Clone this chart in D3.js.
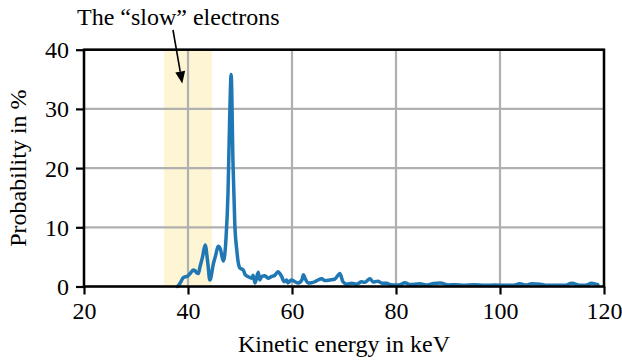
<!DOCTYPE html>
<html>
<head>
<meta charset="utf-8">
<script src="https://cdn.jsdelivr.net/npm/d3@7"></script>
<style>
  html, body { margin: 0; padding: 0; background: #fff; }
  svg text { font-family: "Times New Roman", Times, serif !important; fill: #000; }
</style>
</head>
<body>
<svg id="chart" width="622" height="362"></svg>
<script>
// ---- data ----
const energy = [38.0, 38.5, 39.1, 40.0, 40.7, 41.0, 41.3, 41.7, 42.0, 42.3, 42.8, 43.3, 43.8, 44.2, 44.9, 45.3, 45.8, 46.2, 46.8, 47.3, 47.7, 48.0, 48.3, 48.65, 49.0, 49.4, 49.6, 50.0, 50.6, 51.0, 51.5, 52.3, 52.5, 52.9, 53.5, 53.8, 54.2, 54.8, 55.4, 56.1, 56.7, 57.3, 58.0, 58.5, 59.0, 59.2, 59.9, 60.6, 61.2, 61.9, 62.2, 62.5, 63.1, 63.8, 64.4, 65.0, 65.7, 66.3, 67.3, 68.3, 69.2, 69.8, 70.5, 71.5, 72.4, 73.4, 74.0, 75.0, 75.6, 76.5, 77.3, 78.2, 79.0, 80.0, 80.8, 81.7, 82.6, 84.6, 86.0, 87.2, 88.5, 90.0, 91.5, 93.0, 95.0, 97.0, 99.0, 101.0, 102.5, 103.8, 105.0, 106.1, 107.7, 109.0, 111.0, 112.5, 113.8, 115.5, 116.5, 117.6, 118.8];
const probability = [0.0, 0.6, 1.5, 1.8, 2.5, 2.8, 2.7, 2.3, 2.2, 3.3, 5.0, 7.0, 4.0, 1.1, 3.9, 5.2, 6.8, 6.4, 4.3, 8.0, 16.0, 28.0, 35.8, 21.0, 10.5, 6.0, 4.4, 3.1, 2.8, 2.0, 1.7, 1.4, 1.9, 0.6, 2.4, 1.1, 1.7, 1.8, 1.4, 1.7, 1.9, 2.5, 1.7, 0.8, 1.1, 0.6, 1.1, 0.8, 0.6, 1.1, 2.0, 1.4, 0.6, 0.65, 0.8, 1.1, 1.3, 1.0, 1.1, 1.3, 2.2, 0.8, 0.4, 0.55, 0.4, 0.8, 0.7, 1.3, 0.75, 0.9, 0.55, 0.55, 0.3, 0.25, 0.3, 0.65, 0.35, 0.45, 0.25, 0.5, 0.6, 0.25, 0.3, 0.2, 0.3, 0.2, 0.25, 0.2, 0.2, 0.45, 0.25, 0.45, 0.4, 0.2, 0.2, 0.2, 0.55, 0.2, 0.2, 0.55, 0.3];
const xTicks = [20, 40, 60, 80, 100, 120];
const yTicks = [0, 10, 20, 30, 40];
const xDomain = [20, 120];
const yDomain = [0, 40];
const spanRange = [35.4, 44.6];
const annotationText = "The \u201cslow\u201d electrons";
const annotationTarget = [38.9, 34.3];
const xLabel = "Kinetic energy in keV";
const yLabel = "Probability in %";

// ---- layout ----
const FONT = "'Times New Roman', Times, serif";
const svg = d3.select("#chart");
const pLeft = 84, pRight = 604, pTop = 49.7, pBottom = 286.5;
const x = d3.scaleLinear().domain(xDomain).range([pLeft, pRight]);
const y = d3.scaleLinear().domain(yDomain).range([pBottom, pTop]);
const fs = 24;

// highlighted span
svg.append("rect")
  .attr("x", x(spanRange[0])).attr("y", pTop)
  .attr("width", x(spanRange[1]) - x(spanRange[0]))
  .attr("height", pBottom - pTop)
  .attr("fill", "#fef5d4");

// grid
const grid = svg.append("g").attr("stroke", "#b0b0b0").attr("stroke-width", 2.2);
grid.selectAll("line.gx").data(xTicks).join("line").attr("class", "gx")
  .attr("x1", d => x(d)).attr("x2", d => x(d)).attr("y1", pTop).attr("y2", pBottom);
grid.selectAll("line.gy").data(yTicks).join("line").attr("class", "gy")
  .attr("x1", pLeft).attr("x2", pRight).attr("y1", d => y(d)).attr("y2", d => y(d));

// data line
const pts = energy.map((e, i) => [e, probability[i]]);
svg.append("path")
  .datum(pts)
  .attr("fill", "none")
  .attr("stroke", "#1f77b4")
  .attr("stroke-width", 3.5)
  .attr("stroke-linejoin", "round")
  .attr("stroke-linecap", "round")
  .attr("d", d3.line().curve(d3.curveMonotoneX).x(d => x(d[0])).y(d => y(d[1])));

// frame
svg.append("rect")
  .attr("x", pLeft).attr("y", pTop)
  .attr("width", pRight - pLeft).attr("height", pBottom - pTop)
  .attr("fill", "none").attr("stroke", "#000").attr("stroke-width", 2.5);

// axes
const xAxis = d3.axisBottom(x).tickValues(xTicks).tickSize(8).tickPadding(6).tickFormat(d3.format("d"));
const yAxis = d3.axisLeft(y).tickValues(yTicks).tickSize(8).tickPadding(7).tickFormat(d3.format("d"));
const gx = svg.append("g").attr("transform", `translate(0,${pBottom})`).call(xAxis);
const gy = svg.append("g").attr("transform", `translate(${pLeft},0)`).call(yAxis);
[gx, gy].forEach(g => {
  g.attr("font-family", FONT).attr("font-size", fs);
  g.select(".domain").remove();
  g.selectAll(".tick line").attr("stroke", "#000").attr("stroke-width", 2.2);
  g.selectAll(".tick text").attr("font-family", FONT).attr("font-size", fs).attr("fill", "#000");
});
gx.selectAll(".tick text").attr("dy", null).attr("y", 32.5);
gy.selectAll(".tick text").attr("dy", "0.33em");

// axis labels
svg.append("text")
  .attr("x", (pLeft + pRight) / 2).attr("y", 352)
  .attr("text-anchor", "middle").attr("font-family", FONT).attr("font-size", fs)
  .text(xLabel);
svg.append("text")
  .attr("transform", `translate(26,${(pTop + pBottom) / 2}) rotate(-90)`)
  .attr("text-anchor", "middle").attr("font-family", FONT).attr("font-size", fs)
  .text(yLabel);

// annotation
svg.append("text")
  .attr("x", 77).attr("y", 25)
  .attr("font-family", FONT).attr("font-size", fs)
  .text(annotationText);
const tx = 173, ty = 30;
const hx = x(annotationTarget[0]), hy = y(annotationTarget[1]);
const ang = Math.atan2(hy - ty, hx - tx);
const hl = 12, hw = 5;
const bx = hx - hl * Math.cos(ang), by = hy - hl * Math.sin(ang);
svg.append("line")
  .attr("x1", tx).attr("y1", ty).attr("x2", bx).attr("y2", by)
  .attr("stroke", "#000").attr("stroke-width", 1.6);
svg.append("path")
  .attr("d", `M${hx},${hy} L${bx + hw * Math.sin(ang)},${by - hw * Math.cos(ang)} L${bx - hw * Math.sin(ang)},${by + hw * Math.cos(ang)} Z`)
  .attr("fill", "#000");
</script>
</body>
</html>
